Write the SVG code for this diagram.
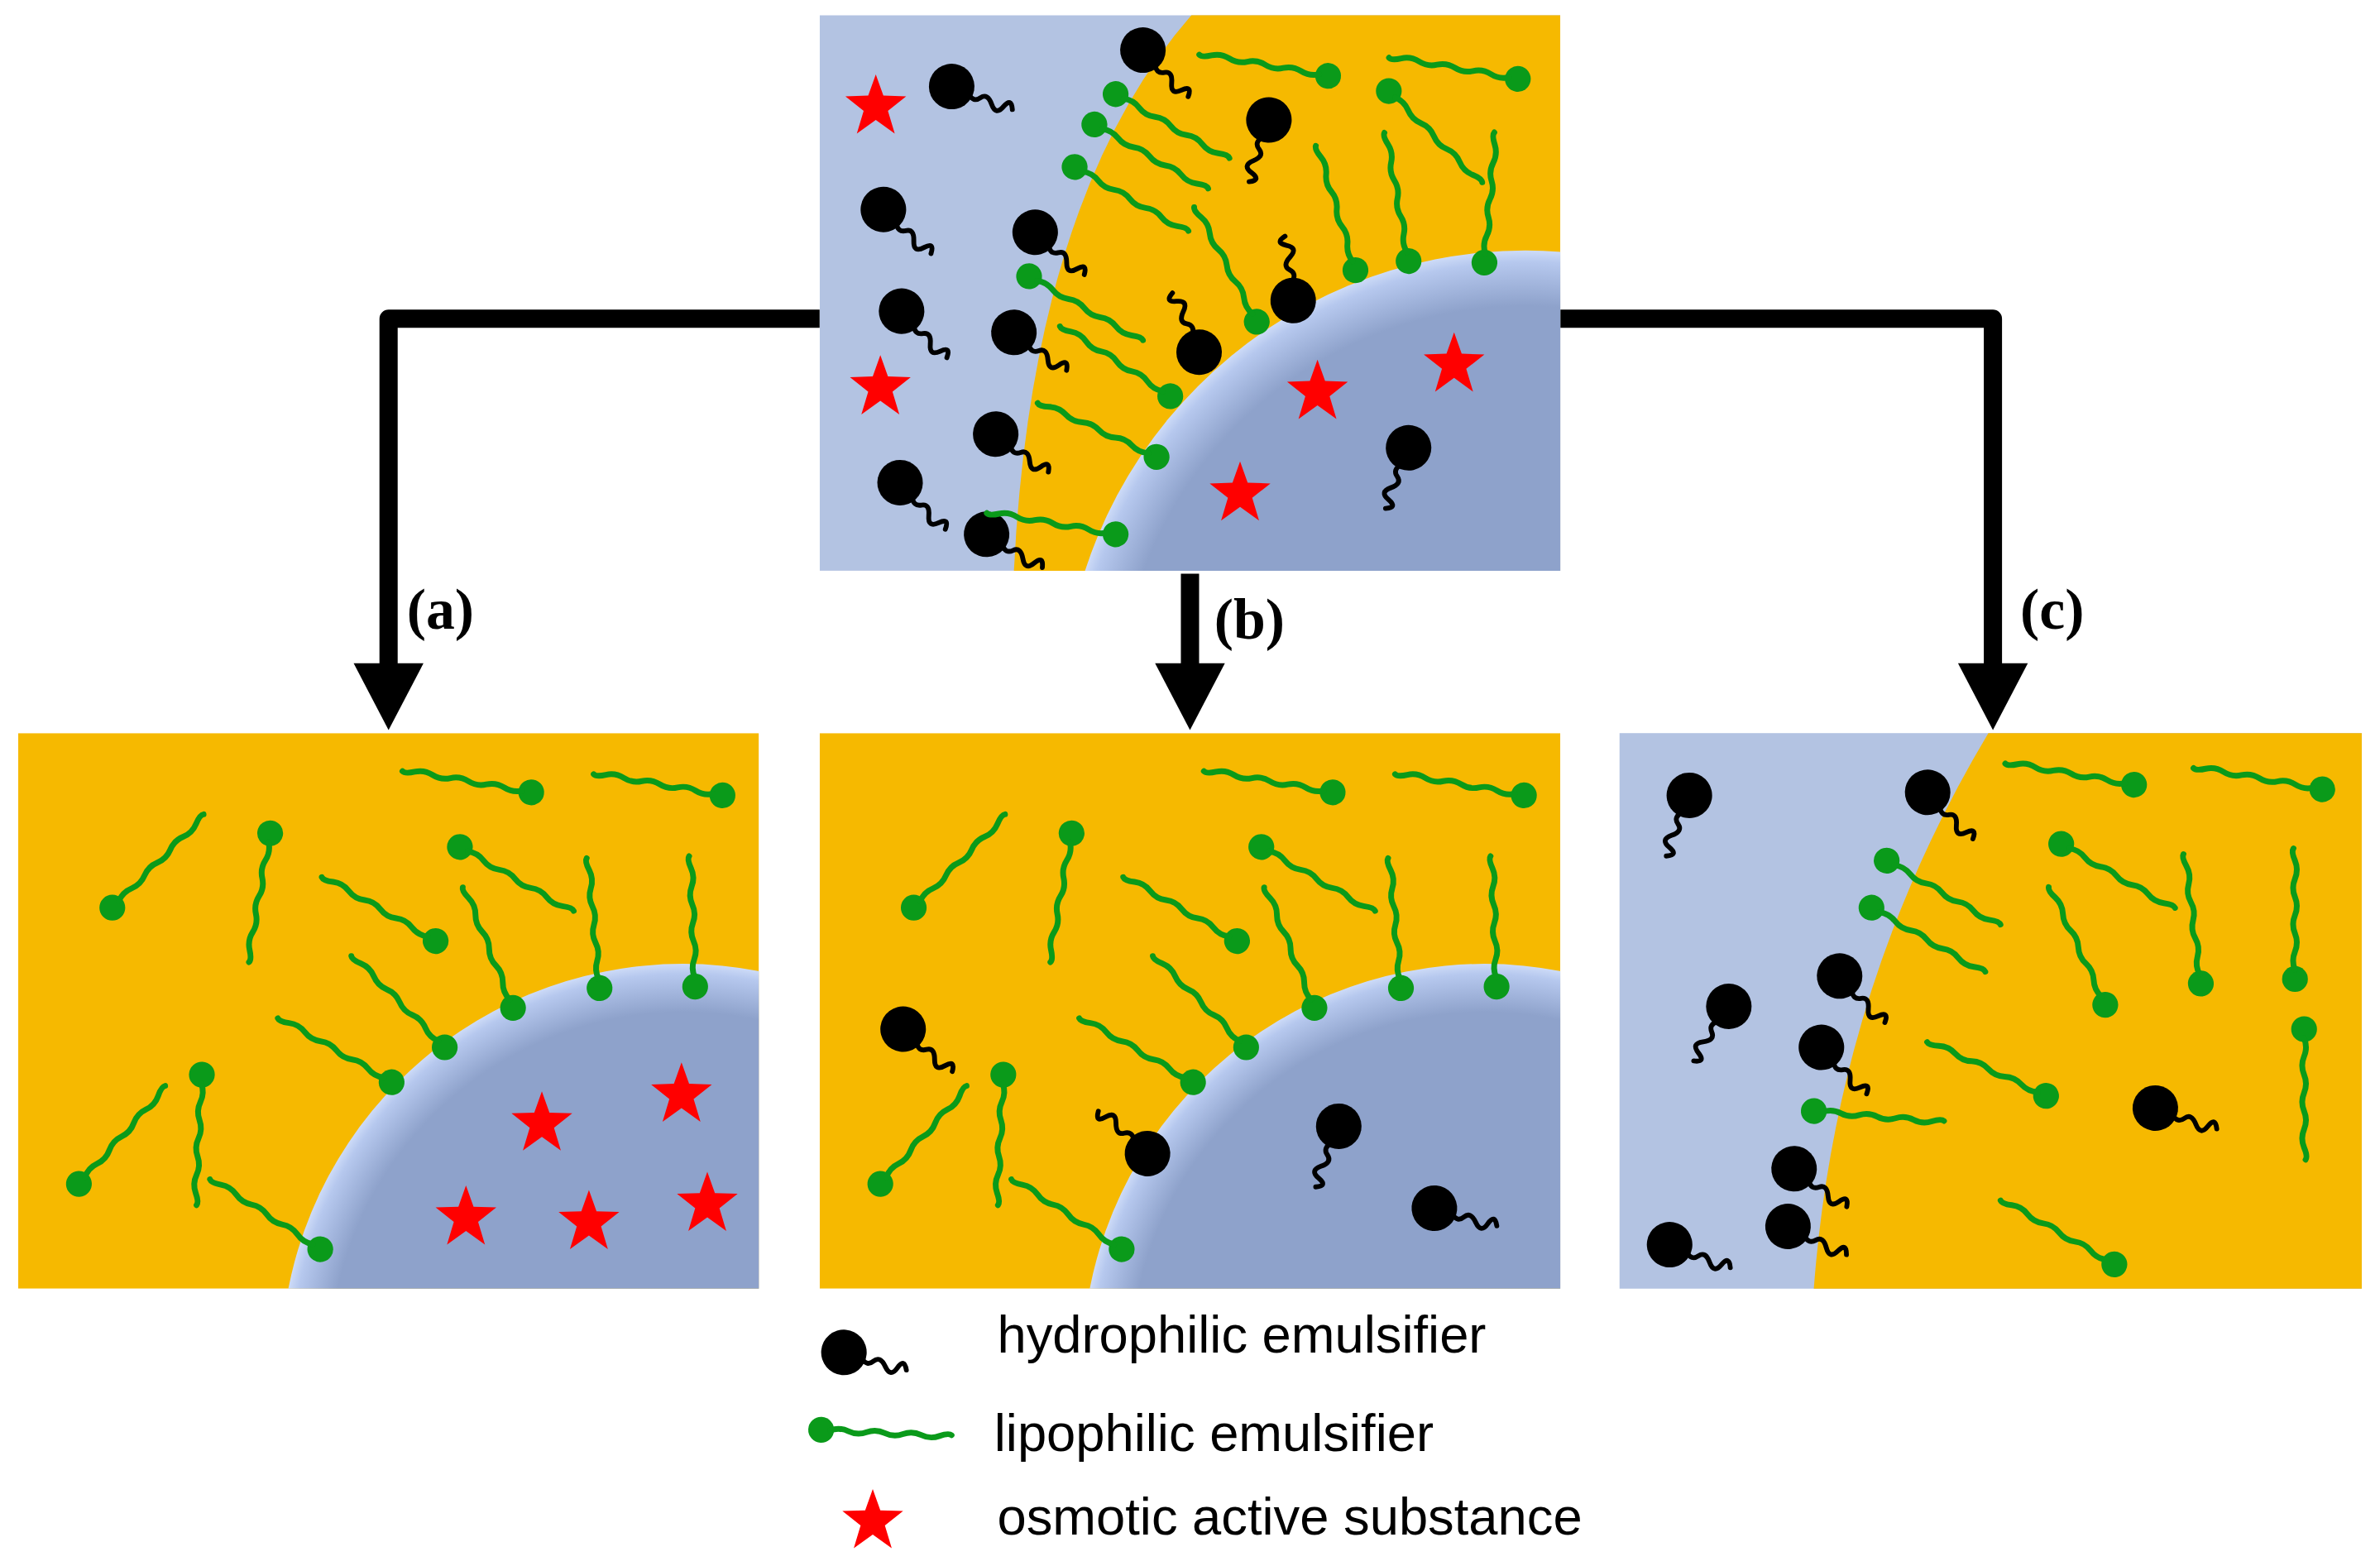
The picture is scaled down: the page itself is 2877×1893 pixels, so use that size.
<svg xmlns="http://www.w3.org/2000/svg" xmlns:xlink="http://www.w3.org/1999/xlink" width="2877" height="1893" viewBox="0 0 2877 1893">
<style>
.water{fill:#b3c3e2}.oil{fill:#f6b900}.conn{fill:none;stroke:#000;stroke-width:12;stroke-linejoin:round}
.lbl{font-family:"Liberation Serif",serif;font-weight:bold;font-size:38px}
.leg{font-family:"Liberation Sans",Arial,sans-serif;font-size:34.5px}
.star{fill:#ff0000}
</style>
<defs>
<radialGradient id="drop" gradientUnits="userSpaceOnUse" r="1">
<stop offset="0.88" stop-color="#8ea2cb"/><stop offset="0.975" stop-color="#b6c8ee"/><stop offset="1" stop-color="#cddbf7"/>
</radialGradient>
<radialGradient id="dTop" href="#drop" cx="1005" cy="470" r="305"/>
<radialGradient id="dA" href="#drop" cx="450" cy="900" r="265"/>
<radialGradient id="dB" href="#drop" cx="978" cy="900" r="265"/>
<g id="hyd"><circle r="15" fill="#000"/><path d="M12,3 q4,5 8,1 t8,3 t8,0 t6,1" fill="none" stroke="#000" stroke-width="3.2" stroke-linecap="round"/></g>
<g id="lip"><circle r="8.5" fill="#0a9a1a"/><path d="M6,0 q6,-2.5 12,0 t12,0 t12,0 t12,0 t12,0 t12,0 t8,-1" fill="none" stroke="#0a9a1a" stroke-width="3.8" stroke-linecap="round"/></g>
<polygon id="star" class="star" points="0,-21 5,-7 20,-6.5 8,3 12.5,18 0,9 -12.5,18 -8,3 -20,-6.5 -5,-7"/>
<clipPath id="cT"><rect x="540" y="10" width="488" height="366"/></clipPath>
<clipPath id="cA"><rect x="12" y="483" width="488" height="366"/></clipPath>
<clipPath id="cB"><rect x="540" y="483" width="488" height="366"/></clipPath>
</defs>
<rect width="2877" height="1893" fill="#fff"/>
<g transform="scale(1.8348)">
<g id="connectors">
<path class="conn" d="M540,210 H256 V440"/><polygon points="233,437 279,437 256,481"/>
<path class="conn" d="M784,378 V440"/><polygon points="761,437 807,437 784,481"/>
<path class="conn" d="M1028,210 H1313 V440"/><polygon points="1290,437 1336,437 1313,481"/>
</g>
<text class="lbl" x="268" y="414">(a)</text>
<text class="lbl" x="800" y="421">(b)</text>
<text class="lbl" x="1331" y="414">(c)</text>

<g id="top" clip-path="url(#cT)">
<rect class="water" x="540" y="10" width="488" height="366"/>
<path class="oil" d="M785,10 Q680,130 668,376 H1028 V10 Z"/>
<circle cx="1005" cy="470" r="305" fill="url(#dTop)"/>
<use href="#star" x="577" y="70"/><use href="#star" x="580" y="255"/><use href="#star" x="868" y="258"/><use href="#star" x="958" y="240"/><use href="#star" x="817" y="325"/>
<use href="#hyd" transform="translate(627,57) rotate(10)"/>
<use href="#hyd" transform="translate(753,33) rotate(35)"/>
<use href="#hyd" transform="translate(836,79) rotate(97)"/>
<use href="#hyd" transform="translate(582,138) rotate(32)"/>
<use href="#hyd" transform="translate(682,153) rotate(30)"/>
<use href="#hyd" transform="translate(594,205) rotate(35)"/>
<use href="#hyd" transform="translate(668,219) rotate(25)"/>
<use href="#hyd" transform="translate(790,232) rotate(-125)"/>
<use href="#hyd" transform="translate(852,198) rotate(-108)"/>
<use href="#hyd" transform="translate(656,286) rotate(25)"/>
<use href="#hyd" transform="translate(593,318) rotate(35)"/>
<use href="#hyd" transform="translate(650,352) rotate(20)"/>
<use href="#hyd" transform="translate(928,295) rotate(100)"/>
<use href="#lip" transform="translate(875,50) rotate(190)"/>
<use href="#lip" transform="translate(1000,52) rotate(190)"/>
<use href="#lip" transform="translate(735,62) rotate(30)"/>
<use href="#lip" transform="translate(721,82) rotate(30)"/>
<use href="#lip" transform="translate(708,110) rotate(30)"/>
<use href="#lip" transform="translate(915,60) rotate(45)"/>
<use href="#lip" transform="translate(678,182) rotate(30)"/>
<use href="#lip" transform="translate(771,261) rotate(213)"/>
<use href="#lip" transform="translate(762,301) rotate(205)"/>
<use href="#lip" transform="translate(735,352) rotate(190)"/>
<use href="#lip" transform="translate(828,212) rotate(-118)"/>
<use href="#lip" transform="translate(893,178) rotate(-107)"/>
<use href="#lip" transform="translate(928,172) rotate(-100)"/>
<use href="#lip" transform="translate(978,173) rotate(-85)"/>
</g>

<g id="panelA" clip-path="url(#cA)">
<rect class="oil" x="12" y="483" width="488" height="366"/>
<circle cx="450" cy="900" r="265" fill="url(#dA)"/>
<use href="#star" x="357" y="740"/><use href="#star" x="449" y="721"/><use href="#star" x="307" y="802"/><use href="#star" x="388" y="805"/><use href="#star" x="466" y="793"/>
<g id="lipsA">
<use href="#lip" transform="translate(350,522) rotate(190)"/>
<use href="#lip" transform="translate(476,524) rotate(190)"/>
<use href="#lip" transform="translate(74,598) rotate(-45)"/>
<use href="#lip" transform="translate(178,549) rotate(100)"/>
<use href="#lip" transform="translate(303,558) rotate(30)"/>
<use href="#lip" transform="translate(287,620) rotate(210)"/>
<use href="#lip" transform="translate(395,651) rotate(-95)"/>
<use href="#lip" transform="translate(458,650) rotate(-92)"/>
<use href="#lip" transform="translate(338,664) rotate(-112)"/>
<use href="#lip" transform="translate(293,690) rotate(-135)"/>
<use href="#lip" transform="translate(258,713) rotate(-150)"/>
<use href="#lip" transform="translate(52,780) rotate(-48)"/>
<use href="#lip" transform="translate(133,708) rotate(93)"/>
<use href="#lip" transform="translate(211,823) rotate(-147)"/>
</g>
</g>

<g id="panelB" clip-path="url(#cB)">
<rect class="oil" x="540" y="483" width="488" height="366"/>
<circle cx="978" cy="900" r="265" fill="url(#dB)"/>
<use href="#lipsA" x="528"/>
<use href="#hyd" transform="translate(595,678) rotate(30)"/>
<use href="#hyd" transform="translate(756,760) rotate(-150)"/>
<use href="#hyd" transform="translate(882,742) rotate(100)"/>
<use href="#hyd" transform="translate(945,796) rotate(5)"/>
</g>

<g id="panelC">
<rect class="water" x="1067" y="483" width="489" height="366"/>
<path class="oil" d="M1310,483 Q1210,650 1195,849 H1556 V483 Z"/>
<use href="#hyd" transform="translate(1113,524) rotate(100)"/>
<use href="#hyd" transform="translate(1270,522) rotate(35)"/>
<use href="#hyd" transform="translate(1212,643) rotate(35)"/>
<use href="#hyd" transform="translate(1139,663) rotate(112)"/>
<use href="#hyd" transform="translate(1200,690) rotate(35)"/>
<use href="#hyd" transform="translate(1182,770) rotate(25)"/>
<use href="#hyd" transform="translate(1178,808) rotate(15)"/>
<use href="#hyd" transform="translate(1100,820) rotate(10)"/>
<use href="#hyd" transform="translate(1420,730) rotate(8)"/>
<use href="#lip" transform="translate(1406,517) rotate(190)"/>
<use href="#lip" transform="translate(1530,520) rotate(190)"/>
<use href="#lip" transform="translate(1358,556) rotate(30)"/>
<use href="#lip" transform="translate(1243,567) rotate(30)"/>
<use href="#lip" transform="translate(1233,598) rotate(30)"/>
<use href="#lip" transform="translate(1195,732) rotate(5)"/>
<use href="#lip" transform="translate(1450,648) rotate(-97)"/>
<use href="#lip" transform="translate(1387,662) rotate(-115)"/>
<use href="#lip" transform="translate(1512,645) rotate(-90)"/>
<use href="#lip" transform="translate(1518,678) rotate(90)"/>
<use href="#lip" transform="translate(1348,722) rotate(205)"/>
<use href="#lip" transform="translate(1393,833) rotate(210)"/>
</g>

<g id="legend">
<use href="#hyd" transform="translate(556,891) rotate(5)"/>
<text class="leg" x="657" y="891">hydrophilic emulsifier</text>
<use href="#lip" transform="translate(541,942) rotate(3)"/>
<text class="leg" x="655" y="956">lipophilic emulsifier</text>
<use href="#star" x="575" y="1002"/>
<text class="leg" x="657" y="1011">osmotic active substance</text>
</g>
</g>
</svg>
